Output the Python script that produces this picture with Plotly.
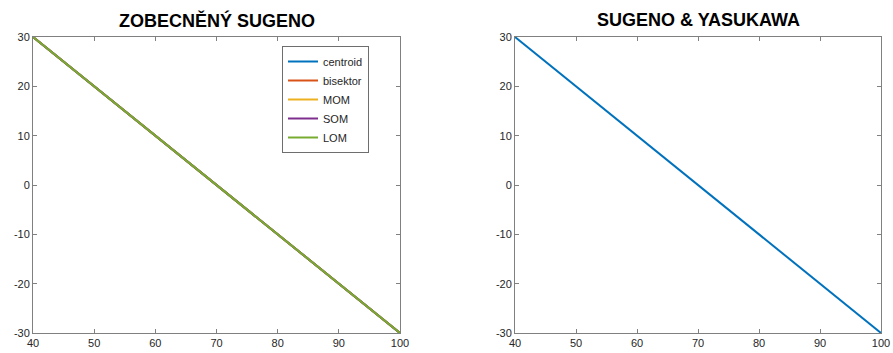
import plotly.graph_objects as go

x_vals = [40, 50, 60, 70, 80, 90, 100]
centroid = [30, 20, 10, 0, -10, -20, -30]
bisektor = [30, 20, 10, 0, -10, -20, -30]
mom = [30, 20, 10, 0, -10, -20, -30]
som = [30, 20, 10, 0, -10, -20, -30]
lom = [30, 20, 10, 0, -10, -20, -30]
sy_centroid = [30, 20, 10, 0, -10, -20, -30]

x_ticks = [40, 50, 60, 70, 80, 90, 100]
y_ticks = [-30, -20, -10, 0, 10, 20, 30]
y_ticktext = ["-30", "-20", "-10", "0", "10", "20", "30"]

names = ["centroid", "bisektor", "MOM", "SOM", "LOM"]
colors = ["#0072BD", "#D95319", "#EDB120", "#7E2F8E", "#77AC30"]
series = [centroid, bisektor, mom, som, lom]

fig = go.Figure()
for n, c, s in zip(names, colors, series):
    fig.add_trace(go.Scatter(x=x_vals, y=s, mode="lines", name=n,
                             line=dict(color=c, width=2), xaxis="x", yaxis="y"))
fig.add_trace(go.Scatter(x=x_vals, y=sy_centroid, mode="lines", name="centroid",
                         showlegend=False, line=dict(color=colors[0], width=2),
                         xaxis="x2", yaxis="y2"))

W, H = 893, 353
ax_common = dict(showgrid=False, zeroline=False, showline=True, mirror="ticks",
                 linecolor="#808080", linewidth=1, ticks="inside", ticklen=4,
                 tickcolor="#808080", automargin=False,
                 tickfont=dict(family="Liberation Sans, Arial", size=11, color="#262626"))
ydom = [1 - 333 / H, 1 - 37 / H]
fig.update_layout(
    width=W, height=H, margin=dict(l=0, r=0, t=0, b=0, autoexpand=False),
    paper_bgcolor="white", plot_bgcolor="white",
    xaxis=dict(domain=[33 / W, 400 / W], range=[40, 100], tickvals=x_ticks, anchor="y", **ax_common),
    yaxis=dict(domain=ydom, range=[-30, 30], tickvals=y_ticks, ticktext=y_ticktext, anchor="x", **ax_common),
    xaxis2=dict(domain=[515 / W, 881 / W], range=[40, 100], tickvals=x_ticks, anchor="y2", **ax_common),
    yaxis2=dict(domain=ydom, range=[-30, 30], tickvals=y_ticks, ticktext=y_ticktext, anchor="x2", **ax_common),
    legend=dict(x=369 / W, y=1 - 46 / H, xanchor="right", yanchor="top",
                bordercolor="#6e6e6e", borderwidth=1, bgcolor="white",
                font=dict(family="Liberation Sans, Arial", size=11, color="#262626"),
                tracegroupgap=0, itemwidth=30),
    showlegend=True,
    annotations=[
        dict(text="<b>ZOBECNĚNÝ SUGENO</b>", x=(33 + 400) / 2 / W, y=1 - 20 / H, xref="paper", yref="paper",
             xanchor="center", yanchor="middle",
             showarrow=False, font=dict(family="Liberation Sans, Arial", size=18, color="black")),
        dict(text="<b>SUGENO &amp; YASUKAWA</b>", x=(515 + 881) / 2 / W, y=1 - 20 / H, xref="paper", yref="paper",
             xanchor="center", yanchor="middle",
             showarrow=False, font=dict(family="Liberation Sans, Arial", size=18, color="black")),
    ],
)
fig.write_html("out.html", config={"displayModeBar": False},
               post_script="document.body.style.margin='0';document.body.style.overflow='hidden';")
